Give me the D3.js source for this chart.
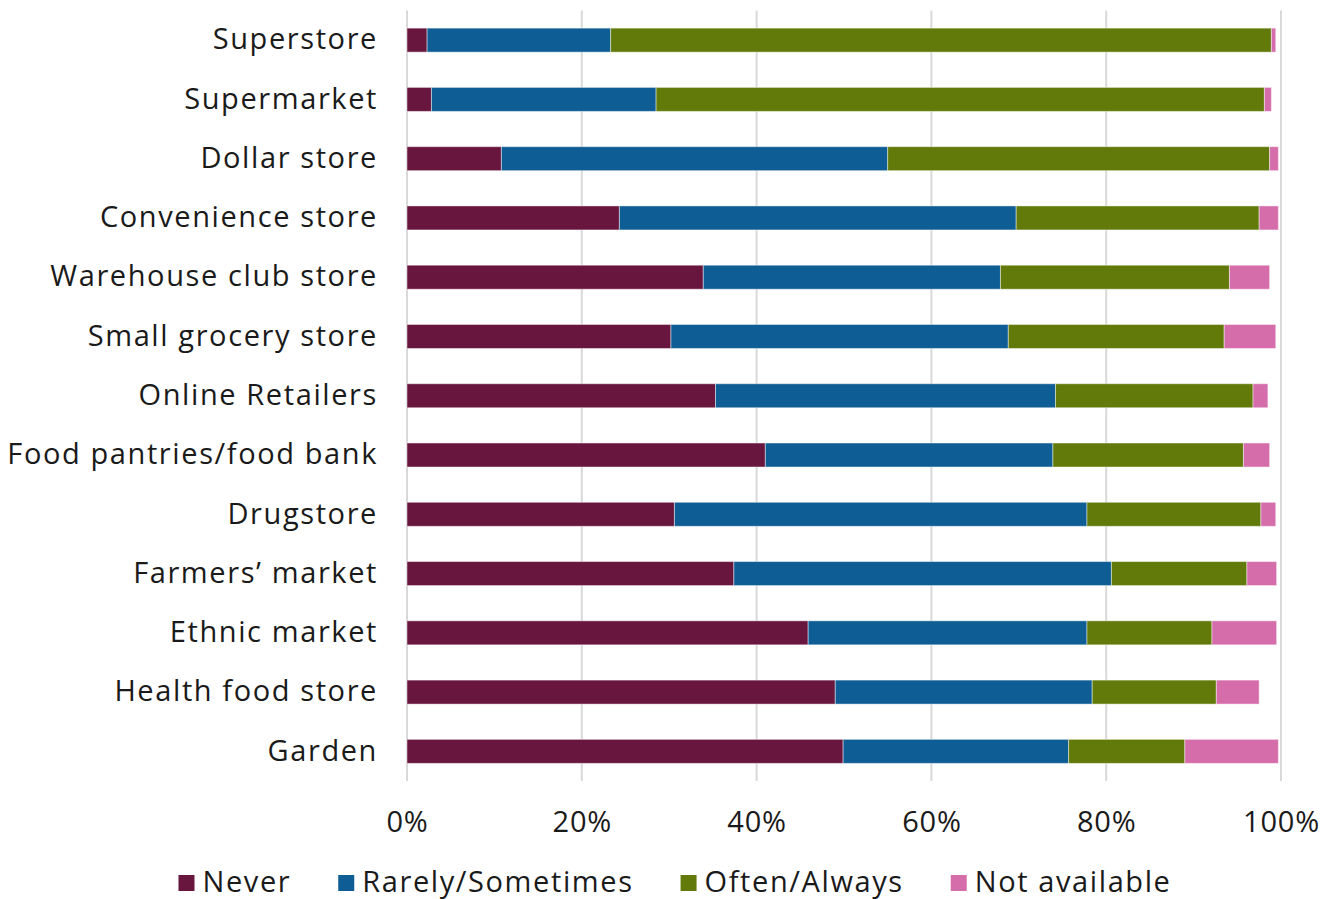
<!DOCTYPE html>
<html>
<head>
<meta charset="utf-8">
<script src="https://cdn.jsdelivr.net/npm/d3@7"></script>
<style>
  html, body { margin: 0; padding: 0; background: #fff; }
  svg text { font-family: "Open Sans", Lato, sans-serif; fill: #1a1a1a; letter-spacing: 1.6px; }
  svg .x-axis text { letter-spacing: 0.8px; }
</style>
</head>
<body>
<svg id="chart" width="1340" height="899"></svg>
<script>
// Where people shop for food and how often
const categories = [
  "Superstore", "Supermarket", "Dollar store", "Convenience store",
  "Warehouse club store", "Small grocery store", "Online Retailers",
  "Food pantries/food bank", "Drugstore", "Farmers\u2019 market",
  "Ethnic market", "Health food store", "Garden"
];
const seriesNames = ["Never", "Rarely/Sometimes", "Often/Always", "Not available"];
const never     = [2.3, 2.8, 10.8, 24.3, 33.9, 30.2, 35.3, 41.0, 30.6, 37.4, 45.9, 49.0, 49.9];
const rarely    = [21.0, 25.7, 44.2, 45.4, 34.0, 38.6, 38.9, 32.9, 47.2, 43.2, 31.9, 29.4, 25.8];
const often     = [75.6, 69.6, 43.7, 27.8, 26.2, 24.7, 22.6, 21.8, 19.9, 15.5, 14.3, 14.2, 13.3];
const notAvail  = [0.5, 0.8, 1.0, 2.2, 4.6, 5.9, 1.7, 3.0, 1.7, 3.4, 7.4, 4.9, 10.7];
const tickValues = [0, 20, 40, 60, 80, 100];
const colors = ["#69163f", "#0e5d95", "#617a09", "#d66dab"];

const svg = d3.select("#chart");
const margin = { left: 407, right: 59, top: 10.5, bottom: 118 };
const W = 1340, H = 899;
const fontSize = "29px";

const x = d3.scaleLinear().domain([0, 100]).range([margin.left, W - margin.right]);
const y = d3.scaleBand().domain(categories).range([margin.top, H - margin.bottom])
  .paddingInner(0.595).paddingOuter(0.2975);

// vertical gridlines
svg.append("g").selectAll("line").data(tickValues).join("line")
  .attr("x1", d => x(d)).attr("x2", d => x(d))
  .attr("y1", margin.top).attr("y2", H - margin.bottom)
  .attr("stroke", "#d9d9d9").attr("stroke-width", 2);

// stacked rows
const rows = categories.map((c, i) => ({ cat: c, vals: [never[i], rarely[i], often[i], notAvail[i]] }));
const stack = d3.stack().keys([0, 1, 2, 3]).value((d, k) => d.vals[k]);
const layers = stack(rows);

svg.append("g").selectAll("g").data(layers).join("g")
  .attr("fill", (d, i) => colors[i])
  .selectAll("rect").data(d => d).join("rect")
  .attr("x", d => x(d[0]))
  .attr("width", d => x(d[1]) - x(d[0]))
  .attr("y", d => y(d.data.cat))
  .attr("height", y.bandwidth())
  .attr("stroke", "#ffffff").attr("stroke-opacity", 0.45).attr("stroke-width", 1);

// category labels
const yAxis = d3.axisLeft(y).tickSize(0).tickPadding(29);
const gy = svg.append("g").attr("transform", `translate(${margin.left},0)`).call(yAxis);
gy.select(".domain").remove();
gy.selectAll("text").style("font-size", fontSize).style("font-family", null).attr("fill", "#1a1a1a");

// percentage axis
const xAxis = d3.axisBottom(x).tickValues(tickValues).tickFormat(d => d + "%").tickSize(0).tickPadding(0);
const gx = svg.append("g").attr("class", "x-axis").attr("transform", `translate(0,832)`).call(xAxis);
gx.select(".domain").remove();
gx.selectAll("text").attr("dy", 0).style("font-size", fontSize).style("font-family", null).attr("fill", "#1a1a1a");

// legend
const legend = svg.append("g");
const items = legend.selectAll("g").data(seriesNames).join("g");
items.append("rect").attr("width", 16).attr("height", 16).attr("y", -17)
  .attr("fill", (d, i) => colors[i]);
items.append("text").attr("x", 24).attr("y", 0)
  .style("font-size", fontSize).text(d => d);
let cx = 0;
items.each(function () {
  const g = d3.select(this);
  g.attr("transform", `translate(${cx},0)`);
  cx += 24 + g.select("text").node().getComputedTextLength() + 47;
});
const total = cx - 47;
legend.attr("transform", `translate(${675 - total / 2},892)`);
</script>
</body>
</html>
